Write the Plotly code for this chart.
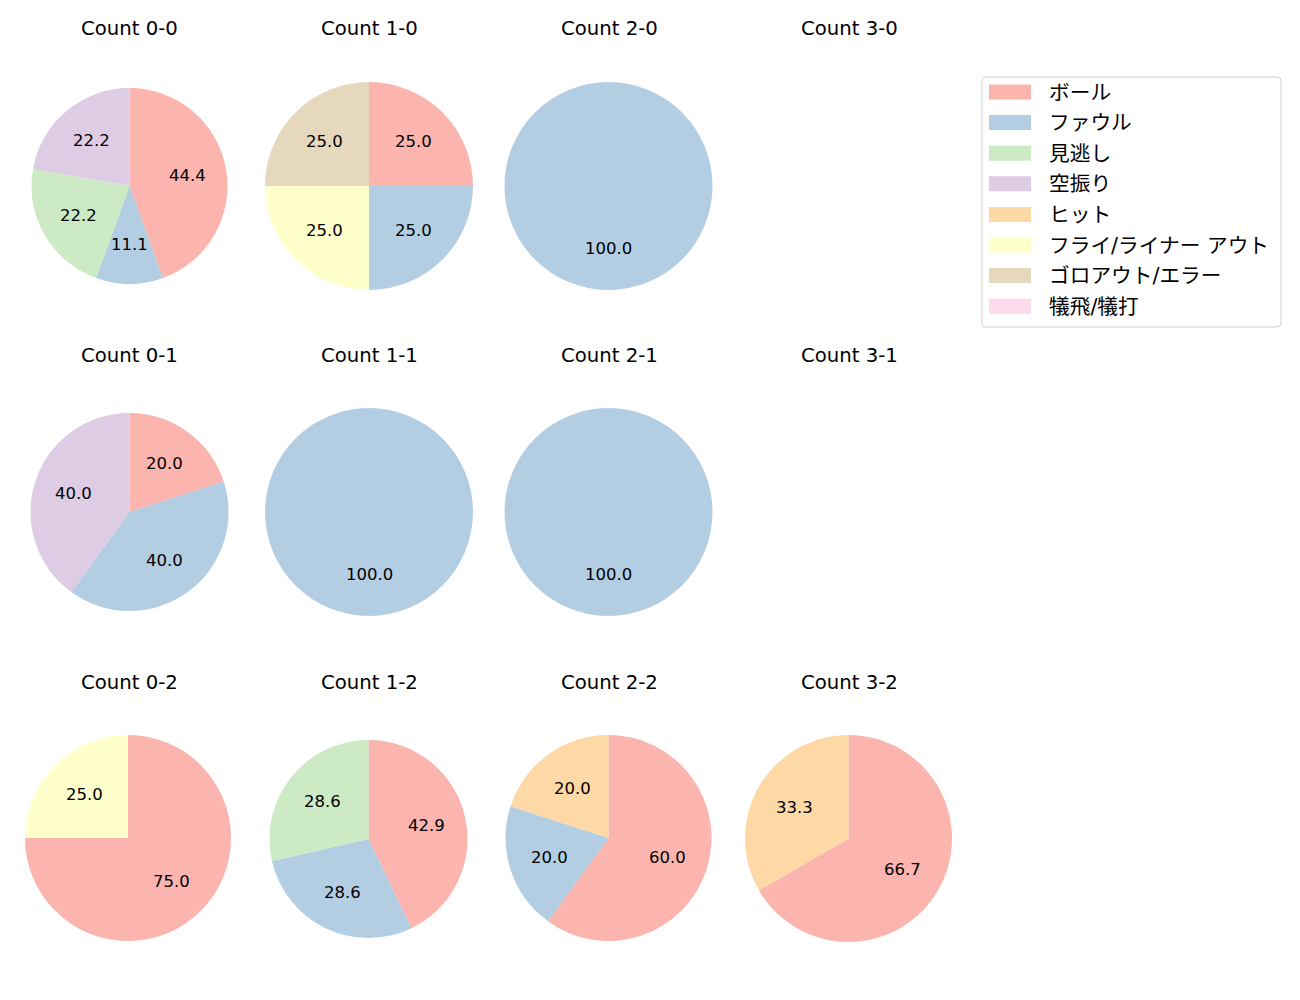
import math
import plotly.graph_objects as go

# ---- data ----
categories = ["ボール", "ファウル", "見逃し", "空振り", "ヒット",
              "フライ/ライナー アウト", "ゴロアウト/エラー", "犠飛/犠打"]
count_labels = ["0-0", "1-0", "2-0", "3-0",
                "0-1", "1-1", "2-1", "3-1",
                "0-2", "1-2", "2-2", "3-2"]
# counts per category for each ball-strike count (order of categories)
c_0_0 = [4, 1, 2, 2, 0, 0, 0, 0]
c_1_0 = [1, 1, 0, 0, 0, 1, 1, 0]
c_2_0 = [0, 1, 0, 0, 0, 0, 0, 0]
c_3_0 = [0, 0, 0, 0, 0, 0, 0, 0]
c_0_1 = [1, 2, 0, 2, 0, 0, 0, 0]
c_1_1 = [0, 1, 0, 0, 0, 0, 0, 0]
c_2_1 = [0, 1, 0, 0, 0, 0, 0, 0]
c_3_1 = [0, 0, 0, 0, 0, 0, 0, 0]
c_0_2 = [3, 0, 0, 0, 0, 1, 0, 0]
c_1_2 = [3, 2, 2, 0, 0, 0, 0, 0]
c_2_2 = [3, 1, 0, 0, 1, 0, 0, 0]
c_3_2 = [2, 0, 0, 0, 1, 0, 0, 0]
all_counts = [c_0_0, c_1_0, c_2_0, c_3_0, c_0_1, c_1_1, c_2_1, c_3_1,
              c_0_2, c_1_2, c_2_2, c_3_2]

# ---- style / layout ----
colors = ["#fbb4ae", "#b3cde3", "#ccebc5", "#decbe4", "#fed9a6",
          "#ffffcc", "#e5d8bd", "#fddaec"]
W, H = 1300, 1000
col_x = [129.5, 369, 609, 849]
row_title_y = [28, 355, 682]
# pie geometry in pixels: (cx, cy, r)
geom = [
    (129.5, 186, 98), (369, 186, 104), (608.5, 186, 104), None,
    (129.5, 512, 99), (369, 512, 104), (608.5, 512, 104), None,
    (128, 838, 103), (368.5, 839, 99), (608.5, 838, 103), (848.5, 838.5, 103.5),
]
FONT = "DejaVu Sans, Noto Sans CJK JP, sans-serif"

fig = go.Figure()
annotations = []
shapes = []

for i, (lab, vals) in enumerate(zip(count_labels, all_counts)):
    row, col = divmod(i, 4)
    annotations.append(dict(
        x=col_x[col] / W, y=1 - row_title_y[row] / H, xref="paper", yref="paper",
        text="Count " + lab, showarrow=False, xanchor="center", yanchor="middle",
        font=dict(size=19.7, color="#000000", family=FONT)))
    g = geom[i]
    total = sum(vals)
    if g is None or total == 0:
        continue
    cx, cy, r = g
    labs = [c for c, v in zip(categories, vals) if v > 0]
    vs = [v for v in vals if v > 0]
    cols = [colors[k] for k, v in enumerate(vals) if v > 0]
    fig.add_trace(go.Pie(
        labels=labs, values=vs, sort=False, direction="clockwise", rotation=0,
        marker=dict(colors=cols, line=dict(width=0)),
        textinfo="none", hoverinfo="label+percent", showlegend=False,
        domain=dict(x=[(cx - r) / W, (cx + r) / W],
                    y=[1 - (cy + r) / H, 1 - (cy - r) / H])))
    cum = 0
    for v in vs:
        theta = math.radians(90 - 360 * (cum + v / 2) / total)
        cum += v
        px = cx + 0.6 * r * math.cos(theta)
        py = cy - 0.6 * r * math.sin(theta)
        annotations.append(dict(
            x=px / W, y=1 - py / H, xref="paper", yref="paper",
            text=f"{100 * v / total:.1f}", showarrow=False,
            xanchor="center", yanchor="middle",
            font=dict(size=16.5, color="#000000", family=FONT)))

# ---- manual legend ----
lx0, ly0, lx1, ly1, rad = 982, 77, 1281, 327, 4


def P(x, y):
    return f"{x / W:.5f},{1 - y / H:.5f}"


shapes.append(dict(
    type="path", xref="paper", yref="paper",
    path=(f"M {P(lx0+rad, ly0)} L {P(lx1-rad, ly0)} Q {P(lx1, ly0)} {P(lx1, ly0+rad)} "
          f"L {P(lx1, ly1-rad)} Q {P(lx1, ly1)} {P(lx1-rad, ly1)} "
          f"L {P(lx0+rad, ly1)} Q {P(lx0, ly1)} {P(lx0, ly1-rad)} "
          f"L {P(lx0, ly0+rad)} Q {P(lx0, ly0)} {P(lx0+rad, ly0)} Z"),
    line=dict(color="#d0d0d0", width=1), fillcolor="rgba(255,255,255,0.8)"))
for k, (cat, colr) in enumerate(zip(categories, colors)):
    yc = 92 + k * 30.6
    shapes.append(dict(
        type="rect", xref="paper", yref="paper",
        x0=989 / W, x1=1031 / W, y0=1 - (yc + 7.5) / H, y1=1 - (yc - 7.5) / H,
        line=dict(width=0), fillcolor=colr))
    annotations.append(dict(
        x=1047 / W, y=1 - (yc + 0.5) / H, xref="paper", yref="paper", text=cat,
        showarrow=False, xanchor="left", yanchor="middle",
        font=dict(size=20.7, color="#000000", family=FONT)))

fig.update_layout(
    width=W, height=H, margin=dict(l=0, r=0, t=0, b=0),
    paper_bgcolor="white", plot_bgcolor="white",
    annotations=annotations, shapes=shapes, showlegend=False)

fig.write_html("out.html")
